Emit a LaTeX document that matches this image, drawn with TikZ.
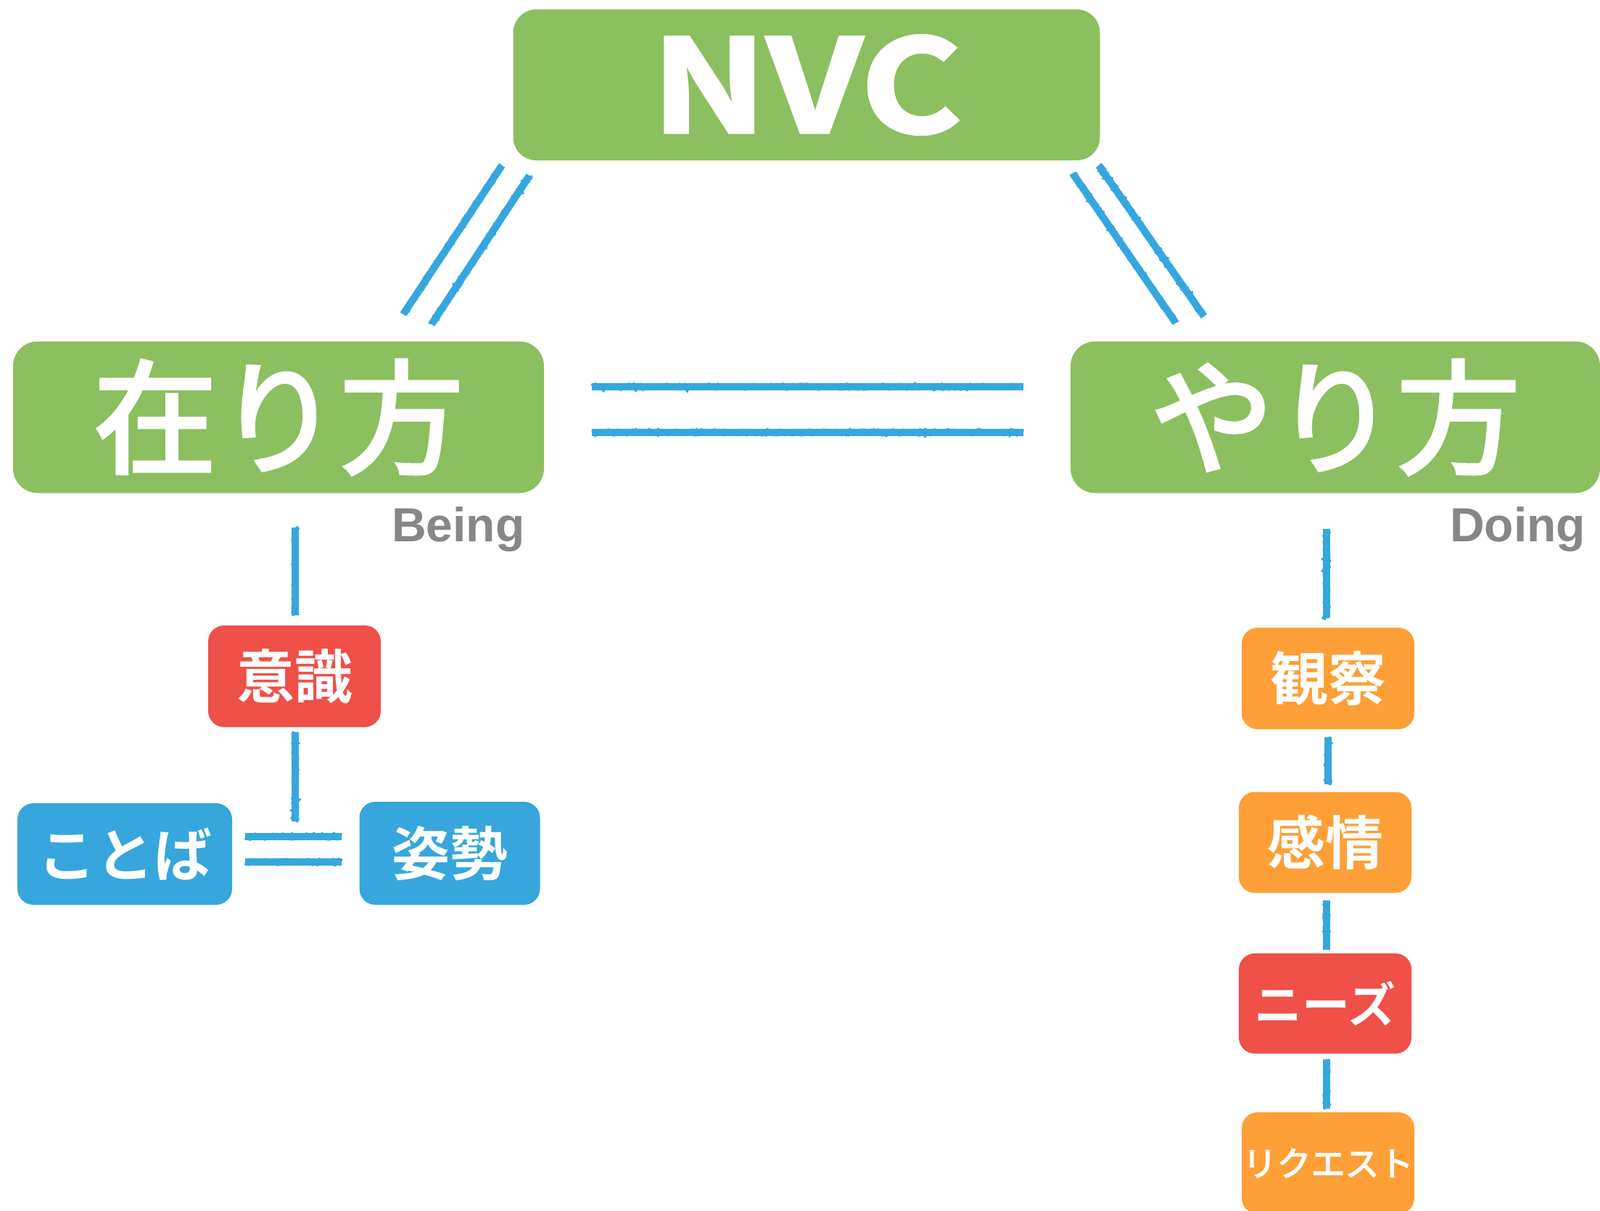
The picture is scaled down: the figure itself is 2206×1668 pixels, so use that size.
\documentclass[tikz,border=0pt]{standalone}
\usepackage{fontspec}
\newfontfamily\jp[FakeBold=3]{Noto Sans CJK JP}
\newfontfamily\jpb{Noto Sans CJK JP Bold}
\newfontfamily\jpbb[FakeBold=2.5,FakeStretch=1.2]{Noto Sans CJK JP Bold}
\newfontfamily\lab{Liberation Sans}
\usetikzlibrary{decorations.pathmorphing}
\definecolor{gr}{HTML}{8CBF60}
\definecolor{bl}{HTML}{36A6DC}
\definecolor{rd}{HTML}{EF5048}
\definecolor{og}{HTML}{FE9F37}
\definecolor{ch}{HTML}{35A7DE}
\definecolor{gy}{HTML}{858788}
\tikzset{
  box/.style={rounded corners=#1, inner sep=0pt, text=white, align=center},
  box/.default=22pt,
  chalk/.style={draw=ch, line width=10pt,
    postaction={draw=ch, line width=8pt, decorate,
      decoration={random steps, segment length=3pt, amplitude=1.6pt}}},
  lbl/.style={inner sep=0pt, text=gy, font=\lab\bfseries\fontsize{66}{66}\selectfont},
}
\begin{document}
\begin{tikzpicture}[x=1pt, y=-1pt]
\useasboundingbox (0,0) rectangle (2206,1668);
% main boxes
\node[box=32pt, fill=gr, minimum width=809pt, minimum height=208pt,
      font=\jpbb\fontsize{177}{177}\selectfont] (nvc) at (1112,117) {NVC};
\node[box=34pt, fill=gr, minimum width=732pt, minimum height=209pt,
      font=\jp\fontsize{170}{170}\selectfont] (ari) at (384,575) {\raisebox{-2pt}{在り方}};
\node[box=34pt, fill=gr, minimum width=730pt, minimum height=209pt,
      font=\jp\fontsize{170}{170}\selectfont] (yari) at (1841,575) {\raisebox{-2pt}{やり方}};
\node[lbl, anchor=base west] (being) at (540,746) {Being};
\node[lbl, anchor=base west] (doing) at (1999,746) {Doing};
% left column
\node[box, fill=rd, minimum width=238pt, minimum height=140pt,
      font=\jpb\fontsize{80}{80}\selectfont] (ishiki) at (406,932) {意識};
\node[box, fill=bl, minimum width=296pt, minimum height=140pt,
      font=\jpb\fontsize{80}{80}\selectfont] (kotoba) at (172,1177) {ことば};
\node[box, fill=bl, minimum width=249pt, minimum height=142pt,
      font=\jpb\fontsize{80}{80}\selectfont] (shisei) at (620,1176) {姿勢};
% right column
\node[box, fill=og, minimum width=238pt, minimum height=140pt,
      font=\jpb\fontsize{80}{80}\selectfont] (kansatsu) at (1831,935) {観察};
\node[box, fill=og, minimum width=238pt, minimum height=139pt,
      font=\jpb\fontsize{80}{80}\selectfont] (kanjou) at (1827,1161) {感情};
\node[box, fill=rd, minimum width=238pt, minimum height=138pt,
      font=\jpb\fontsize{66}{66}\selectfont] (needs) at (1827,1383) {ニーズ};
\node[box, fill=og, minimum width=238pt, minimum height=140pt,
      font=\jp\fontsize{47}{47}\selectfont] (request) at (1831,1603) {リクエスト};
% connector end points
\coordinate (la1) at (556,433); \coordinate (lb1) at (692,228);
\coordinate (la2) at (595,447); \coordinate (lb2) at (730,242);
\coordinate (ra1) at (1479,239); \coordinate (rb1) at (1621,445);
\coordinate (ra2) at (1515,228); \coordinate (rb2) at (1660,436);
\coordinate (h1a) at (816,533); \coordinate (h1b) at (1411,533);
\coordinate (h2a) at (816,596); \coordinate (h2b) at (1411,596);
\coordinate (v1a) at (407,727); \coordinate (v1b) at (407,848);
\coordinate (v2a) at (407,1009); \coordinate (v2b) at (407,1132);
\coordinate (s1a) at (338,1153); \coordinate (s1b) at (471,1153);
\coordinate (s2a) at (338,1188); \coordinate (s2b) at (471,1188);
\coordinate (w1a) at (1829,729); \coordinate (w1b) at (1829,851);
\coordinate (w2a) at (1831,1016); \coordinate (w2b) at (1831,1081);
\coordinate (w3a) at (1829,1241); \coordinate (w3b) at (1829,1309);
\coordinate (w4a) at (1829,1460); \coordinate (w4b) at (1829,1528);
% connectors
\draw[chalk] (la1) -- (lb1);
\draw[chalk] (la2) -- (lb2);
\draw[chalk] (ra1) -- (rb1);
\draw[chalk] (ra2) -- (rb2);
\draw[chalk] (h1a) -- (h1b);
\draw[chalk] (h2a) -- (h2b);
\draw[chalk] (v1a) -- (v1b);
\draw[chalk] (v2a) -- (v2b);
\draw[chalk] (s1a) -- (s1b);
\draw[chalk] (s2a) -- (s2b);
\draw[chalk] (w1a) -- (w1b);
\draw[chalk] (w2a) -- (w2b);
\draw[chalk] (w3a) -- (w3b);
\draw[chalk] (w4a) -- (w4b);
\end{tikzpicture}
\end{document}
